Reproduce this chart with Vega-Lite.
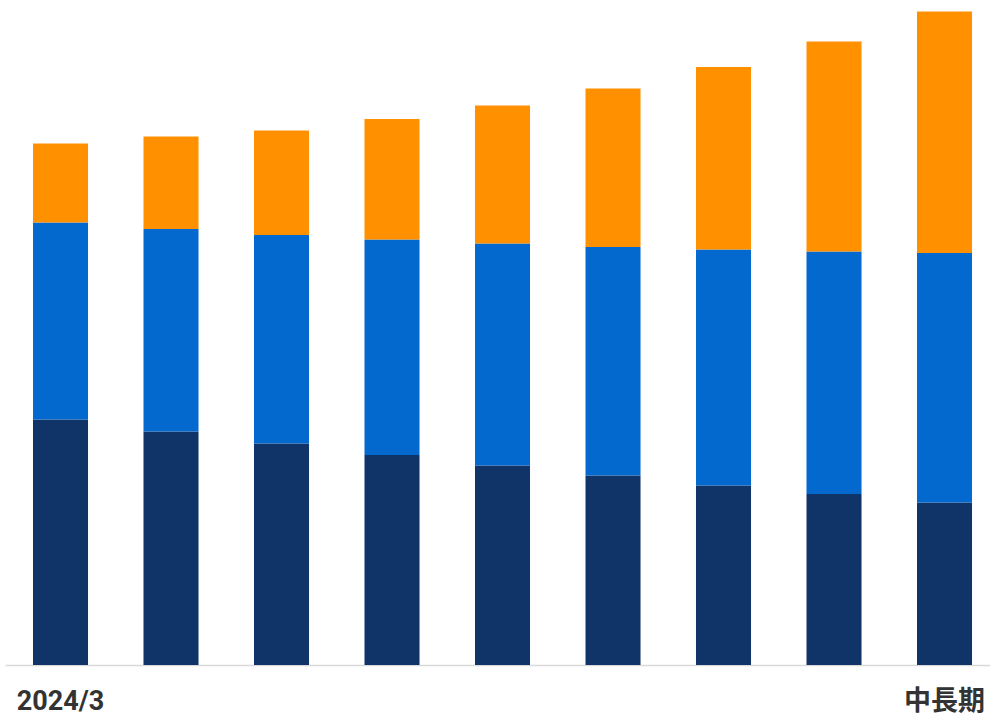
{
  "$schema": "https://vega.github.io/schema/vega-lite/v6.json",
  "autosize": {"type": "none"},
  "width": 985,
  "height": 665,
  "padding": {"left": 5, "top": 0, "right": 0, "bottom": 53},
  "background": "white",
  "config": {"view": {"stroke": null}},
  "data": {"values": [
    {"idx": 1, "series": "A", "ord": 1, "value": 49.1},
    {"idx": 1, "series": "B", "ord": 2, "value": 39.4},
    {"idx": 1, "series": "C", "ord": 3, "value": 15.8},
    {"idx": 2, "series": "A", "ord": 1, "value": 46.7},
    {"idx": 2, "series": "B", "ord": 2, "value": 40.5},
    {"idx": 2, "series": "C", "ord": 3, "value": 18.5},
    {"idx": 3, "series": "A", "ord": 1, "value": 44.3},
    {"idx": 3, "series": "B", "ord": 2, "value": 41.7},
    {"idx": 3, "series": "C", "ord": 3, "value": 20.9},
    {"idx": 4, "series": "A", "ord": 1, "value": 42.0},
    {"idx": 4, "series": "B", "ord": 2, "value": 43.1},
    {"idx": 4, "series": "C", "ord": 3, "value": 24.1},
    {"idx": 5, "series": "A", "ord": 1, "value": 39.9},
    {"idx": 5, "series": "B", "ord": 2, "value": 44.4},
    {"idx": 5, "series": "C", "ord": 3, "value": 27.6},
    {"idx": 6, "series": "A", "ord": 1, "value": 37.9},
    {"idx": 6, "series": "B", "ord": 2, "value": 45.7},
    {"idx": 6, "series": "C", "ord": 3, "value": 31.7},
    {"idx": 7, "series": "A", "ord": 1, "value": 35.9},
    {"idx": 7, "series": "B", "ord": 2, "value": 47.2},
    {"idx": 7, "series": "C", "ord": 3, "value": 36.5},
    {"idx": 8, "series": "A", "ord": 1, "value": 34.2},
    {"idx": 8, "series": "B", "ord": 2, "value": 48.5},
    {"idx": 8, "series": "C", "ord": 3, "value": 42.0},
    {"idx": 9, "series": "A", "ord": 1, "value": 32.5},
    {"idx": 9, "series": "B", "ord": 2, "value": 49.9},
    {"idx": 9, "series": "C", "ord": 3, "value": 48.3}
  ]},
  "mark": {"type": "bar"},
  "encoding": {
    "x": {
      "field": "idx", "type": "ordinal",
      "scale": {"paddingInner": 0.502, "paddingOuter": 0.208, "align": 0.609},
      "axis": {
        "title": null,
        "labelAngle": 0,
        "labelExpr": "datum.value == 1 ? '2024/3' : (datum.value == 9 ? '中長期' : '')",
        "labelFont": "Roboto, Noto Sans CJK JP",
        "labelFontSize": 27,
        "labelFontWeight": "bold",
        "labelColor": "#333333",
        "labelBaseline": "alphabetic",
        "labelPadding": 44,
        "ticks": false,
        "tickSize": 0,
        "domainColor": "#d9d9d9",
        "domainWidth": 1.5,
        "grid": false
      }
    },
    "y": {
      "field": "value", "type": "quantitative", "stack": "zero",
      "scale": {"domain": [0, 133], "nice": false, "zero": true},
      "axis": null
    },
    "color": {
      "field": "series", "type": "nominal",
      "scale": {"domain": ["A", "B", "C"], "range": ["#113468", "#0469CF", "#FF9000"]},
      "legend": null
    },
    "order": {"field": "ord", "type": "quantitative"}
  }
}
